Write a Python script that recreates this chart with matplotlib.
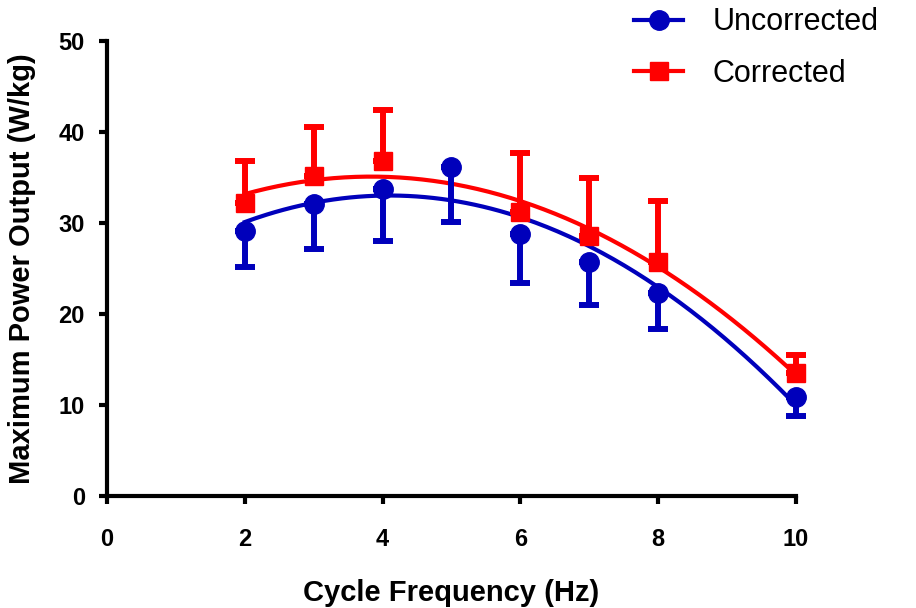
import numpy as np
import matplotlib
matplotlib.use("Agg")
from matplotlib import pyplot as plt
from matplotlib.lines import Line2D

plt.rcParams['font.family'] = ['Liberation Sans', 'DejaVu Sans']

# data
freq_unc = [2, 3, 4, 5, 6, 7, 8, 10]
power_unc = [29.1, 32.1, 33.7, 36.2, 28.8, 25.7, 22.3, 10.9]
err_unc = [3.9, 5.0, 5.7, 6.1, 5.4, 4.7, 3.9, 2.1]  # drawn downward only

freq_cor = [2, 3, 4, 6, 7, 8, 10]
power_cor = [32.2, 35.2, 36.8, 31.2, 28.6, 25.7, 13.5]
err_cor = [4.6, 5.3, 5.6, 6.5, 6.3, 6.7, 2.0]  # drawn upward only

x_ticks = [0, 2, 4, 6, 8, 10]
y_ticks = [0, 10, 20, 30, 40, 50]

BLUE = '#0000BB'
RED = '#FF0000'

fig = plt.figure(figsize=(9.16, 6.08), dpi=100)
ax = fig.add_axes([107 / 916, 112 / 608, 689 / 916, 455 / 608])

# quadratic fits through each series
xs = np.linspace(2, 10, 200)
for fx, fy, col in [(freq_cor, power_cor, RED), (freq_unc, power_unc, BLUE)]:
	coef = np.polyfit(fx, fy, 2)
	ax.plot(xs, np.polyval(coef, xs), color=col, lw=3, clip_on=False, zorder=2)

ax.errorbar(freq_cor, power_cor, yerr=[np.zeros(len(err_cor)), err_cor],
	fmt='s', color=RED, ms=13, elinewidth=4.3, capsize=7, capthick=4.3,
	clip_on=False, zorder=3)
ax.errorbar(freq_unc, power_unc, yerr=[err_unc, np.zeros(len(err_unc))],
	fmt='o', color=BLUE, ms=14, elinewidth=4.3, capsize=7, capthick=4.3,
	clip_on=False, zorder=4)

ax.set_xlim(0, 10)
ax.set_ylim(0, 50)
ax.set_xticks(x_ticks)
ax.set_yticks(y_ticks)
for side in ['top', 'right']:
	ax.spines[side].set_visible(False)
for side in ['left', 'bottom']:
	ax.spines[side].set_linewidth(3)
ax.tick_params(direction='out', length=6, width=3, labelsize=17)
ax.tick_params(axis='x', pad=17)
ax.tick_params(axis='y', pad=10)
for lab in ax.get_xticklabels() + ax.get_yticklabels():
	lab.set_fontweight('bold')

ax.set_xlabel('Cycle Frequency (Hz)', fontsize=21, fontweight='bold', labelpad=20)
ax.set_ylabel('Maximum Power Output (W/kg)', fontsize=21, fontweight='bold', labelpad=16)

handles = [
	Line2D([], [], color=BLUE, lw=3, marker='o', ms=14),
	Line2D([], [], color=RED, lw=3, marker='s', ms=13),
]
fig.legend(handles, ['Uncorrected', 'Corrected'], loc='upper left',
	bbox_to_anchor=(616 / 916, 1.018), frameon=False, fontsize=22,
	handlelength=1.6, handletextpad=0.95, labelspacing=0.7, borderpad=0.1)

fig.savefig('out.png', dpi=100)
